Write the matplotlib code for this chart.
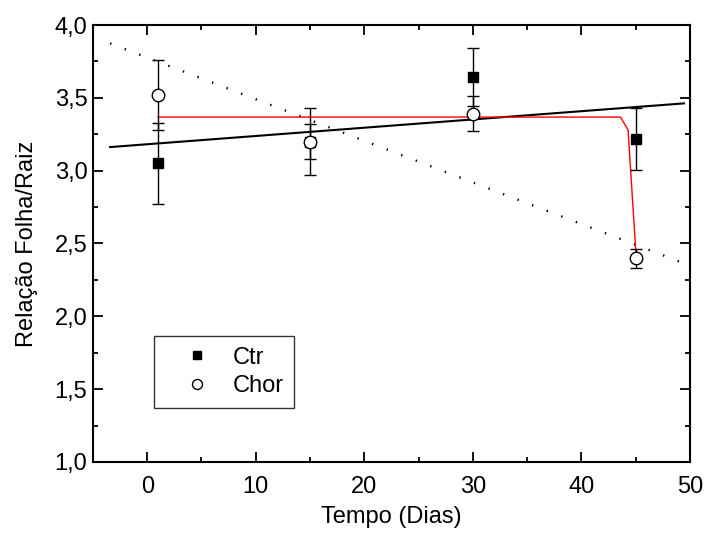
import matplotlib
matplotlib.use("Agg")
import matplotlib.pyplot as plt
from matplotlib.ticker import MultipleLocator, FuncFormatter

plt.rcParams['font.family'] = ['Liberation Sans', 'DejaVu Sans']

# dados
dias = [1, 15, 30, 45]
ctr = [3.05, 3.20, 3.645, 3.217]
ctr_err = [0.28, 0.12, 0.20, 0.215]
chor = [3.52, 3.20, 3.39, 2.40]
chor_err = [0.24, 0.23, 0.12, 0.065]

# ajustes (pontos extremos)
fit_x = [-3.42, 49.45]
fit_ctr = [3.162, 3.462]
fit_chor = [3.874, 2.364]
sig_x = [1, 43.6, 44.3, 45.05]
sig_y = [3.368, 3.368, 3.28, 2.405]

fig = plt.figure(figsize=(7.04, 5.38), dpi=100)
ax = fig.add_axes([0.132, 0.1413, 0.848, 0.8122])

ax.plot(fit_x, fit_ctr, color='black', lw=1.5, zorder=2)
ax.plot(fit_x, fit_chor, color='black', lw=1.7, linestyle=(0, (0.6, 6)), zorder=2)
ax.plot(sig_x, sig_y, color='red', lw=1.0, zorder=2)

ax.errorbar(dias, ctr, yerr=ctr_err, fmt='s', color='black', ms=7,
            capsize=4, elinewidth=1, capthick=1, label='Ctr', zorder=3)
ax.errorbar(dias, chor, yerr=chor_err, fmt='o', mfc='white', mec='black',
            ecolor='black', ms=9, mew=1, capsize=4, elinewidth=1, capthick=1,
            label='Chor', zorder=4)

ax.set_xlim(-5, 50)
ax.set_ylim(1, 4)
ax.xaxis.set_major_locator(MultipleLocator(10))
ax.xaxis.set_minor_locator(MultipleLocator(5))
ax.yaxis.set_major_locator(MultipleLocator(0.5))
ax.yaxis.set_minor_locator(MultipleLocator(0.25))
ax.yaxis.set_major_formatter(FuncFormatter(lambda v, p: f"{v:.1f}".replace('.', ',')))
ax.tick_params(which='both', direction='in', top=True, right=True, width=1.3,
               labelsize=17)
ax.tick_params(axis='x', pad=10)
ax.tick_params(axis='y', pad=4)
ax.tick_params(which='major', length=7)
ax.tick_params(which='minor', length=3.5)
for s in ax.spines.values():
    s.set_linewidth(1.5)

ax.set_xlabel('Tempo (Dias)', fontsize=17, labelpad=6)
ax.set_ylabel('Relação Folha/Raiz', fontsize=17, labelpad=12)

handles, labels = ax.get_legend_handles_labels()
handles = [h[0] for h in handles]
leg = ax.legend(handles, labels, loc='lower left', bbox_to_anchor=(0.103, 0.124),
                fontsize=17, frameon=True, fancybox=False, edgecolor='black',
                handlelength=2.73, handletextpad=0.12, borderpad=0.45,
                labelspacing=0.28, markerscale=0.8, borderaxespad=0)
leg.get_frame().set_linewidth(1.0)

fig.savefig('out.png', dpi=100)
